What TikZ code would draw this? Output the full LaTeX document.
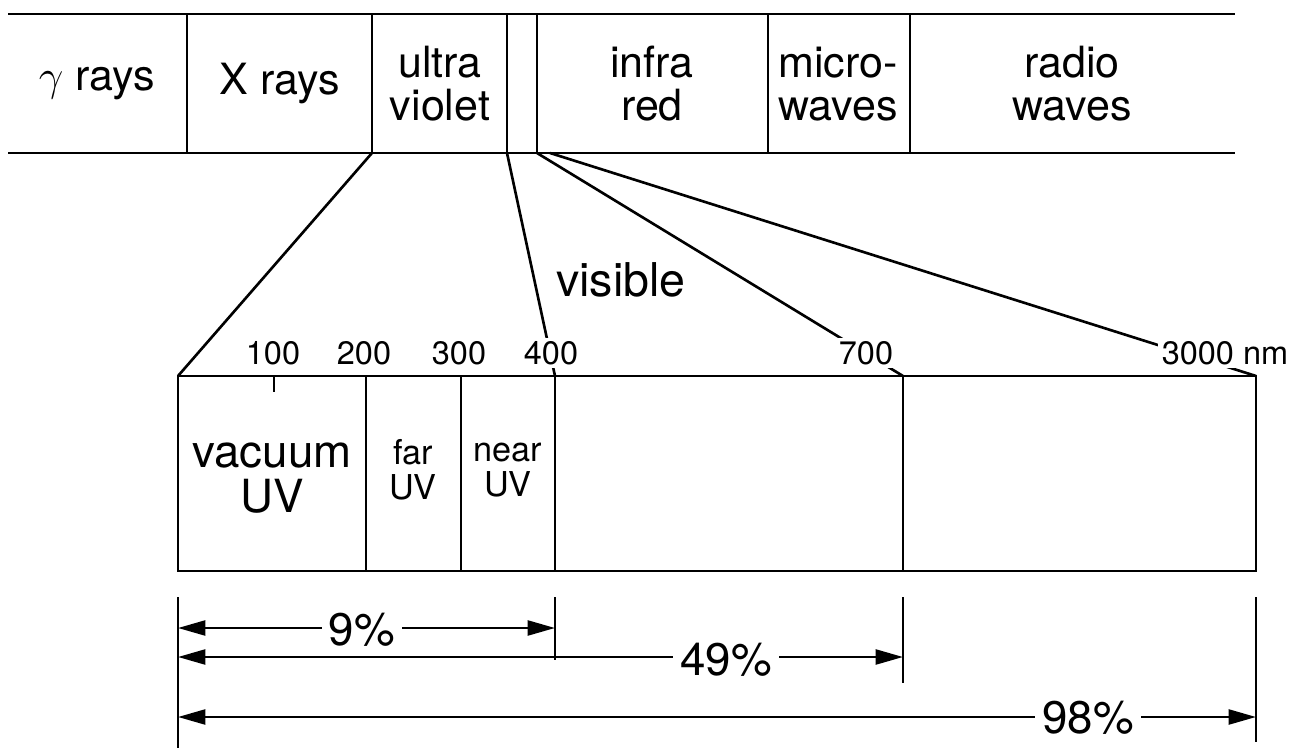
\documentclass[tikz,border=0pt]{standalone}
\usepackage{fontspec}
\setmainfont{TeX Gyre Heros}
\usetikzlibrary{arrows.meta}
\tikzset{
    bandtext/.style={align=center, font=\fontsize{24.5}{24.5}\selectfont, inner sep=1pt},
    vactext/.style={align=center, font=\fontsize{26}{25.5}\selectfont, inner sep=1pt},
    cuttext/.style={align=center, font=\fontsize{19.5}{20}\selectfont, inner sep=1pt},
    scaletext/.style={fill=white, inner sep=2pt, font=\fontsize{18.5}{20}\selectfont},
    pcttext/.style={fill=white, inner sep=4pt, font=\fontsize{26}{27}\selectfont},
    bandline/.style={line width=1.6pt},
    fanline/.style={line width=1.5pt},
    dimarrow/.style={{Triangle[length=5.5mm,width=3mm]}-{Triangle[length=5.5mm,width=3mm]}, line width=1.5pt}
}

\begin{document}
\begin{tikzpicture}[x=0.02cm, y=-0.02cm]
\useasboundingbox (0,0) rectangle (1289,750);

% spectrum band
\draw[bandline] (8,14) -- (1235,14);
\draw[bandline] (8,153) -- (1235,153);
\draw[bandline] (187,14) -- (187,153);
\draw[bandline] (372,14) -- (372,153);
\draw[bandline] (507,14) -- (507,153);
\draw[bandline] (537,14) -- (537,153);
\draw[bandline] (768,14) -- (768,153);
\draw[bandline] (910,14) -- (910,153);

\node[bandtext] (gamma) at (97,84) {$\gamma$ rays};
\node[bandtext] (xray) at (280,84) {X rays};
\node[bandtext] (uv) at (440,84) {ultra\\violet};
\node[bandtext] (ir) at (652,84) {infra\\red};
\node[bandtext] (micro) at (838,84) {micro-\\waves};
\node[bandtext] (radio) at (1072,84) {radio\\waves};

\coordinate (uvleft) at (372,153);
\coordinate (visleft) at (507,153);
\coordinate (visright) at (537,153);
\coordinate (irleft) at (550,153);

% expanded scale
\coordinate (b0) at (178,376);
\coordinate (b400) at (555,376);
\coordinate (b700) at (903,376);
\coordinate (b3000) at (1256,376);

\draw[fanline] (uvleft) -- (b0);
\draw[fanline] (visleft) -- (b400);
\draw[fanline] (visright) -- (b700);
\draw[fanline] (irleft) -- (b3000);

\draw[bandline] (178,376) rectangle (1256,571);
\draw[bandline] (366,376) -- (366,571);
\draw[bandline] (461,376) -- (461,571);
\draw[bandline] (555,376) -- (555,571);
\draw[bandline] (903,376) -- (903,571);
\draw[bandline] (274,376) -- (274,392);

\node[scaletext] (n100) at (273,353) {100};
\node[scaletext] (n200) at (364,353) {200};
\node[scaletext] (n300) at (459,353) {300};
\node[scaletext] (n400) at (551,353) {400};
\node[scaletext] (n700) at (866,353) {700};
\node[scaletext] (n3000) at (1225,353) {3000 nm};

\node[bandtext, fill=white, font=\fontsize{26.5}{27}\selectfont] (vis) at (621,280) {visible};

\node[vactext] (vac) at (272,478) {vacuum\\UV};
\node[cuttext] (far) at (413,470) {far\\UV};
\node[cuttext] (near) at (508,470) {near\\UV};

% fractions of solar energy
\draw[bandline] (178,597) -- (178,748);
\draw[bandline] (555,597) -- (555,660);
\draw[bandline] (903,597) -- (903,683);
\draw[bandline] (1256,597) -- (1256,742);

\coordinate (a0) at (178,628);
\coordinate (a400) at (555,628);
\coordinate (c0) at (178,657);
\coordinate (c700) at (903,657);
\coordinate (d0) at (178,717);
\coordinate (d3000) at (1256,717);

\draw[dimarrow] (a0) -- (a400);
\draw[dimarrow] (c0) -- (c700);
\draw[dimarrow] (d0) -- (d3000);

\node[pcttext] (p9) at (362,630) {9\%};
\node[pcttext] (p49) at (726,660) {49\%};
\node[pcttext] (p98) at (1088,718) {98\%};

\end{tikzpicture}
\end{document}
